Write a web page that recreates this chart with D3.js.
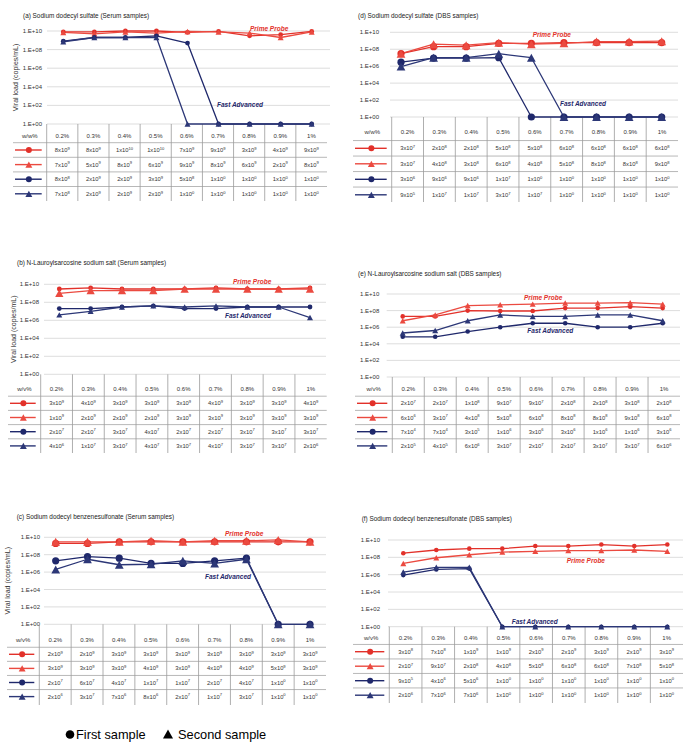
<!DOCTYPE html>
<html><head><meta charset="utf-8">
<script src="https://cdn.jsdelivr.net/npm/d3@7"></script>
<style>body{margin:0;background:#fff}svg{display:block}text{font-family:"Liberation Sans",Arial,Helvetica,sans-serif}</style>
</head><body><svg id="c" width="685" height="743"></svg>
<script>
// ---------- data ----------
const concentrations = ["0.2%","0.3%","0.4%","0.5%","0.6%","0.7%","0.8%","0.9%","1%"];
const yTickValues = [1e0,1e2,1e4,1e6,1e8,1e10];
const legendLabels = ["First sample","Second sample"];
const annotationLabels = ["Prime Probe","Fast Advanced"];
const axisTitle = "Viral load (copies/mL)";
const panelTitles = [
  "(a) Sodium dodecyl sulfate (Serum samples)",
  "(b) N-Lauroylsarcosine sodium salt (Serum samples)",
  "(c) Sodium dodecyl benzenesulfonate (Serum samples)",
  "(d) Sodium dodecyl sulfate (DBS samples)",
  "(e) N-Lauroylsarcosine sodium salt (DBS samples)",
  "(f) Sodium dodecyl benzenesulfonate (DBS samples)"
];
const unitLabels = ["w/w%","w/v%","w/v%","w/w%","w/v%","w/v%"];

// (a) SDS, serum
const sdsSerumPrimeFirst  = [8e9,8e9,1e10,1e10,7e9,9e9,3e9,4e9,9e9];
const sdsSerumPrimeSecond = [7e9,5e9,8e9,6e9,9e9,8e9,6e9,2e9,8e9];
const sdsSerumFastFirst   = [8e8,2e9,2e9,3e9,5e8,1,1,1,1];
const sdsSerumFastSecond  = [7e8,2e9,2e9,2e9,1,1,1,1,1];
// (b) N-Lauroylsarcosine, serum
const slsSerumPrimeFirst  = [3e9,4e9,3e9,3e9,3e9,4e9,3e9,3e9,4e9];
const slsSerumPrimeSecond = [1e9,2e9,2e9,2e9,3e9,3e9,3e9,3e9,3e9];
const slsSerumFastFirst   = [2e7,2e7,3e7,4e7,2e7,2e7,3e7,3e7,3e7];
const slsSerumFastSecond  = [4e6,1e7,3e7,4e7,3e7,4e7,3e7,3e7,2e6];
// (c) SDBS, serum
const sdbsSerumPrimeFirst  = [2e9,2e9,3e9,3e9,3e9,3e9,3e9,3e9,3e9];
const sdbsSerumPrimeSecond = [3e9,3e9,3e9,4e9,3e9,4e9,4e9,5e9,3e9];
const sdbsSerumFastFirst   = [2e7,6e7,4e7,1e7,1e7,2e7,4e7,1,1];
const sdbsSerumFastSecond  = [2e6,3e7,7e6,8e6,2e7,1e7,3e7,1,1];
// (d) SDS, DBS
const sdsDbsPrimeFirst  = [3e7,2e8,2e8,5e8,5e8,6e8,6e8,6e8,6e8];
const sdsDbsPrimeSecond = [3e7,4e8,3e8,6e8,4e8,5e8,8e8,8e8,9e8];
const sdsDbsFastFirst   = [3e6,9e6,9e6,1e7,1,1,1,1,1];
const sdsDbsFastSecond  = [9e5,1e7,1e7,3e7,1e7,1,1,1,1];
// (e) N-Lauroylsarcosine, DBS
const slsDbsPrimeFirst  = [2e7,2e7,1e8,9e7,9e7,2e8,2e8,3e8,2e8];
const slsDbsPrimeSecond = [6e6,3e7,4e8,5e8,6e8,8e8,8e8,9e8,6e8];
const slsDbsFastFirst   = [7e4,7e4,3e5,1e6,3e6,3e6,1e6,1e6,3e6];
const slsDbsFastSecond  = [2e5,4e5,6e6,3e7,2e7,2e7,3e7,3e7,6e6];
// (f) SDBS, DBS
const sdbsDbsPrimeFirst  = [3e8,7e8,1e9,1e9,2e9,2e9,3e9,2e9,3e9];
const sdbsDbsPrimeSecond = [2e7,9e7,2e8,4e8,5e8,6e8,6e8,7e8,5e8];
const sdbsDbsFastFirst   = [9e5,4e6,5e6,1,1,1,1,1,1];
const sdbsDbsFastSecond  = [2e6,7e6,7e6,1,1,1,1,1,1];

const panelData = [
  [sdsSerumPrimeFirst, sdsSerumPrimeSecond, sdsSerumFastFirst, sdsSerumFastSecond],
  [slsSerumPrimeFirst, slsSerumPrimeSecond, slsSerumFastFirst, slsSerumFastSecond],
  [sdbsSerumPrimeFirst, sdbsSerumPrimeSecond, sdbsSerumFastFirst, sdbsSerumFastSecond],
  [sdsDbsPrimeFirst, sdsDbsPrimeSecond, sdsDbsFastFirst, sdsDbsFastSecond],
  [slsDbsPrimeFirst, slsDbsPrimeSecond, slsDbsFastFirst, slsDbsFastSecond],
  [sdbsDbsPrimeFirst, sdbsDbsPrimeSecond, sdbsDbsFastFirst, sdbsDbsFastSecond]
];

// ---------- styles / layout ----------
const seriesStyle = [
  {color:"#e2312a", shape:"circle"},
  {color:"#eb4a40", shape:"triangle"},
  {color:"#1f286b", shape:"circle"},
  {color:"#2c3777", shape:"triangle"}
];
const annColors = ["#e2312a","#1f286b"];

const layouts = [
  {titleX:23, titleY:15, labelRight:42, gridX0:47, gridX1:330, y10:31, y0:124, ptX0:63.3, ptX1:311.7,
   tblX0:46.7, tblX1:327, legX0:13, headerY:136, rowY0:150, rowH:14.6, tblBottom:201, yTitleX:15,
   mk:[2.4,2.6,2.4,2.6], ann:[[250,28],[217,104]]},
  {titleX:17, titleY:262, labelRight:39, gridX0:44, gridX1:326, y10:284.3, y0:374.3, ptX0:59.3, ptX1:310,
   tblX0:40.7, tblX1:326.7, legX0:8, headerY:389, rowY0:403.3, rowH:14.2, tblBottom:453, yTitleX:13,
   mk:[2.4,3.6,2.4,2.6], ann:[[233,281.7],[225,315]]},
  {titleX:16.7, titleY:516, labelRight:40, gridX0:44, gridX1:326, y10:537.3, y0:624.3, ptX0:55.7, ptX1:310,
   tblX0:39.3, tblX1:326, legX0:7, headerY:640, rowY0:654.3, rowH:14.1, tblBottom:705, yTitleX:7,
   mk:[3.6,3.8,3.6,3.8], ann:[[225,533.3],[205,576.7]]},
  {titleX:358, titleY:15, labelRight:379, gridX0:390, gridX1:678, y10:32.3, y0:117, ptX0:401, ptX1:661.7,
   tblX0:391.7, tblX1:678, legX0:353, headerY:132, rowY0:148.3, rowH:15.5, tblBottom:202, yTitleX:null,
   mk:[3.6,3.8,3.6,3.8], ann:[[532.7,34],[560,103]]},
  {titleX:358, titleY:273.3, labelRight:379.3, gridX0:386.7, gridX1:680, y10:294, y0:377, ptX0:402.7, ptX1:662.7,
   tblX0:392.3, tblX1:680, legX0:355, headerY:389, rowY0:403.3, rowH:14.2, tblBottom:453, yTitleX:null,
   mk:[2.3,2.6,2.3,2.6], ann:[[524,297.7],[527.3,330.7]]},
  {titleX:361.7, titleY:518.3, labelRight:380, gridX0:388, gridX1:683, y10:540, y0:626.7, ptX0:403.3, ptX1:667.3,
   tblX0:389.3, tblX1:683, legX0:353, headerY:638.3, rowY0:651.7, rowH:14.5, tblBottom:703, yTitleX:null,
   mk:[2.3,2.6,2.3,2.6], ann:[[566.7,560.7],[511.7,621.3]]}
];

const svg = d3.select("#c");

function drawMarker(g, shape, x, y, r, color) {
  if (shape === "circle") {
    g.append("circle").attr("cx", x).attr("cy", y).attr("r", r).attr("fill", color);
  } else {
    const w = r * 2.3, h = r * 2.1;
    g.append("path")
      .attr("d", `M${x},${y - h/2}L${x + w/2},${y + h/2}L${x - w/2},${y + h/2}Z`)
      .attr("fill", color);
  }
}

function sci(v) {
  const e = Math.floor(Math.log10(v) + 1e-9);
  const m = Math.round(v / Math.pow(10, e));
  return [m + "x10", String(e)];
}

layouts.forEach((L, pi) => {
  const g = svg.append("g");
  const data = panelData[pi];

  // title
  g.append("text").attr("x", L.titleX).attr("y", L.titleY).attr("dominant-baseline", "central")
    .attr("font-size", 6.4).attr("fill", "#222").text(panelTitles[pi]);

  const y = d3.scaleLog().domain([1, 1e10]).range([L.y0, L.y10]);
  const x = d3.scalePoint().domain(concentrations).range([L.ptX0, L.ptX1]);
  const xb = d3.scaleBand().domain(concentrations).range([L.tblX0, L.tblX1]);

  // gridlines + labels
  yTickValues.forEach(t => {
    g.append("line").attr("x1", L.gridX0).attr("x2", L.gridX1).attr("y1", y(t)).attr("y2", y(t))
      .attr("stroke", "#d9d9d9").attr("stroke-width", 0.9);
    const e = Math.round(Math.log10(t));
    g.append("text").attr("x", L.labelRight).attr("y", y(t)).attr("text-anchor", "end")
      .attr("dominant-baseline", "central").attr("font-size", 6).attr("fill", "#333")
      .text("1.E+" + String(e).padStart(2, "0"));
  });

  if (L.yTitleX !== null) {
    g.append("text").attr("transform", `translate(${L.yTitleX},${(L.y0 + L.y10) / 2}) rotate(-90)`)
      .attr("text-anchor", "middle").attr("dominant-baseline", "central")
      .attr("font-size", 7).attr("fill", "#333").text(axisTitle);
  }

  // table grid
  const rowLineYs = [0,1,2,3].map(i => L.rowY0 + (i - 0.5) * L.rowH);
  rowLineYs.forEach(yy => {
    g.append("line").attr("x1", L.legX0).attr("x2", L.tblX1).attr("y1", yy).attr("y2", yy)
      .attr("stroke", "#a6a6a6").attr("stroke-width", 0.8);
  });
  concentrations.forEach(c => {
    const xx = xb(c);
    g.append("line").attr("x1", xx).attr("x2", xx).attr("y1", L.y0).attr("y2", L.tblBottom)
      .attr("stroke", "#9a9a9a").attr("stroke-width", 0.8);
  });
  // header
  const legCx = (L.legX0 + L.tblX0) / 2;
  g.append("text").attr("x", legCx).attr("y", L.headerY).attr("text-anchor", "middle")
    .attr("dominant-baseline", "central").attr("font-size", 6).attr("fill", "#333").text(unitLabels[pi]);
  concentrations.forEach(c => {
    g.append("text").attr("x", xb(c) + xb.bandwidth() / 2).attr("y", L.headerY).attr("text-anchor", "middle")
      .attr("dominant-baseline", "central").attr("font-size", 6).attr("fill", "#333").text(c);
  });
  // rows
  data.forEach((vals, si) => {
    const ry = L.rowY0 + si * L.rowH;
    const st = seriesStyle[si];
    g.append("line").attr("x1", L.legX0 + 2).attr("x2", L.tblX0 - 5).attr("y1", ry).attr("y2", ry)
      .attr("stroke", st.color).attr("stroke-width", 1.4);
    drawMarker(g, st.shape, legCx - 1, ry, 3, st.color);
    vals.forEach((v, i) => {
      const [base, ex] = sci(v);
      const t = g.append("text").attr("x", xb(concentrations[i]) + xb.bandwidth() / 2).attr("y", ry + 2)
        .attr("text-anchor", "middle").attr("font-size", 5.8).attr("fill", "#333");
      t.append("tspan").text(base);
      t.append("tspan").attr("dy", -2.3).attr("font-size", 4.1).text(ex);
    });
  });

  // series lines
  const line = d3.line().x((d, i) => x(concentrations[i])).y(d => y(d));
  data.forEach((vals, si) => {
    g.append("path").attr("d", line(vals)).attr("fill", "none")
      .attr("stroke", seriesStyle[si].color).attr("stroke-width", 1.3).attr("stroke-linejoin", "round");
  });
  data.forEach((vals, si) => {
    vals.forEach((v, i) => drawMarker(g, seriesStyle[si].shape, x(concentrations[i]), y(v), L.mk[si], seriesStyle[si].color));
  });

  // annotations
  L.ann.forEach((p, k) => {
    g.append("text").attr("x", p[0]).attr("y", p[1]).attr("dominant-baseline", "central")
      .attr("font-size", 6.5).attr("font-weight", "bold").attr("font-style", "italic")
      .attr("fill", annColors[k]).text(annotationLabels[k]);
  });
});

// bottom legend
const lg = svg.append("g");
drawMarker(lg, "circle", 70, 734.5, 4.3, "#000");
lg.append("text").attr("x", 76).attr("y", 734.5).attr("dominant-baseline", "central")
  .attr("font-size", 12.8).attr("fill", "#000").text(legendLabels[0]);
drawMarker(lg, "triangle", 168, 734, 4.4, "#000");
lg.append("text").attr("x", 178).attr("y", 734.5).attr("dominant-baseline", "central")
  .attr("font-size", 12.8).attr("fill", "#000").text(legendLabels[1]);
</script></body></html>
